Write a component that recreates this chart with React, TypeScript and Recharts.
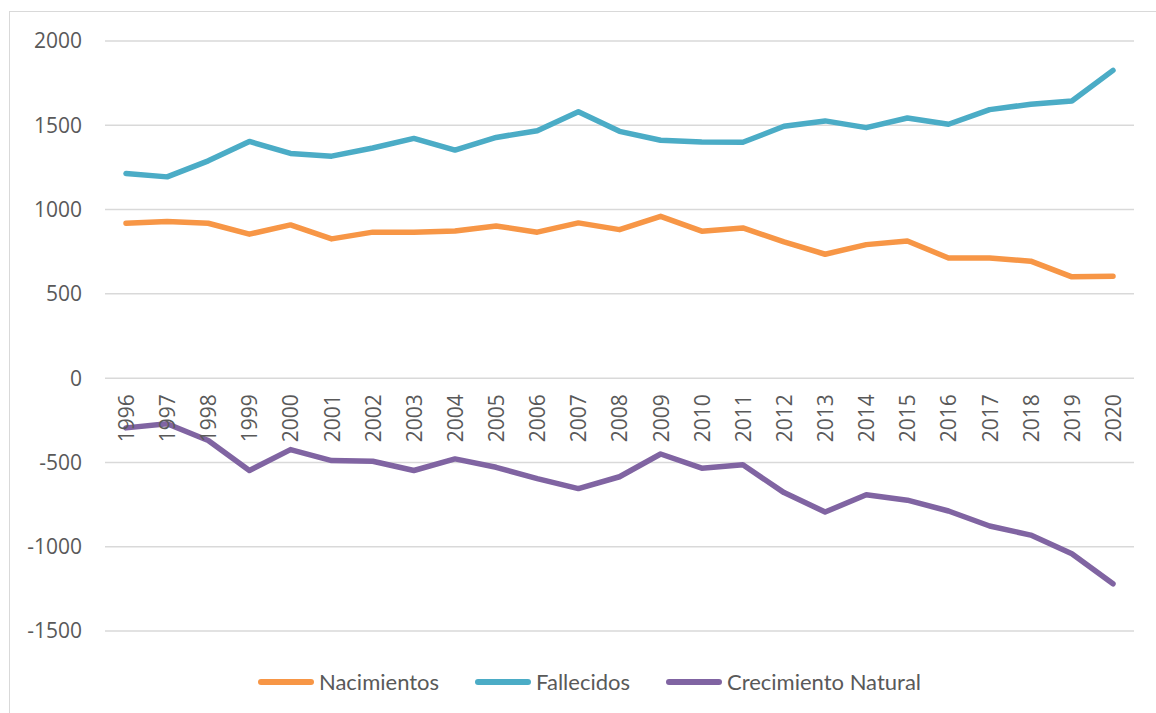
import React from 'react'
import { LineChart, Line, XAxis, YAxis, CartesianGrid, Legend, LabelList } from 'recharts'

// Años
const years = [
  '1996', '1997', '1998', '1999', '2000', '2001', '2002', '2003', '2004', '2005', '2006', '2007', '2008',
  '2009', '2010', '2011', '2012', '2013', '2014', '2015', '2016', '2017', '2018', '2019', '2020',
]

const nacimientos = [919, 929, 919, 854, 909, 826, 866, 866, 873, 903, 866, 921, 881, 960, 872, 891, 808, 735, 792, 814, 713, 713, 694, 601, 605]
const fallecidos = [1214, 1194, 1289, 1404, 1333, 1317, 1365, 1422, 1353, 1428, 1468, 1580, 1464, 1411, 1401, 1399, 1494, 1526, 1486, 1543, 1506, 1593, 1625, 1644, 1826]
const crecimiento = [-295, -271, -370, -548, -424, -489, -493, -548, -479, -529, -596, -655, -585, -450, -534, -514, -679, -794, -692, -724, -788, -877, -931, -1042, -1220]

const yTicks = [-1500, -1000, -500, 0, 500, 1000, 1500, 2000]

// the category labels sit on the zero line, like Excel does
const axisZero = 0

const series = [
  { key: 'Nacimientos', color: '#F79646' },
  { key: 'Fallecidos', color: '#4BACC6' },
  { key: 'Crecimiento Natural', color: '#8064A2' },
]

const data = years.map((year, i) => ({
  year,
  base: axisZero,
  Nacimientos: nacimientos[i],
  Fallecidos: fallecidos[i],
  'Crecimiento Natural': crecimiento[i],
}))

const textColor = '#595959'
const tickFont = '"Open Sans", "Liberation Sans", sans-serif'

const YearLabel = (props: any) => {
  const { x, y, value } = props
  const ty = y + 16
  return (
    <text
      x={x}
      y={ty}
      transform={`rotate(-90, ${x}, ${ty})`}
      textAnchor="end"
      dominantBaseline="central"
      fill={textColor}
      fontSize={21}
      fontFamily={tickFont}
    >
      {value}
    </text>
  )
}

const CustomLegend = () => (
  <div style={{ display: 'flex', justifyContent: 'center', alignItems: 'center', gap: 35 }}>
    {series.map((s) => (
      <div key={s.key} style={{ display: 'flex', alignItems: 'center' }}>
        <svg width={58} height={10} style={{ marginRight: 4 }}>
          <line x1={4} y1={5} x2={54} y2={5} stroke={s.color} strokeWidth={6} strokeLinecap="round" />
        </svg>
        <span style={{ fontFamily: 'Lato, sans-serif', fontSize: 22, color: textColor }}>{s.key}</span>
      </div>
    ))}
  </div>
)

export default function App() {
  return (
    <div style={{ position: 'absolute', left: 0, top: 0, width: 1156, height: 713, overflow: 'hidden', background: '#fff' }}>
      <div
        style={{
          position: 'absolute',
          left: 9,
          top: 11,
          width: 1170,
          height: 730,
          border: '1.5px solid #d9d9d9',
        }}
      />
      <div style={{ position: 'absolute', left: 0, top: 0 }}>
        <LineChart width={1156} height={713} data={data} margin={{ top: 41, right: 22, bottom: 55, left: 35 }}>
          <CartesianGrid vertical={false} stroke="#d9d9d9" strokeWidth={1.5} />
          <XAxis dataKey="year" hide padding={{ left: 21, right: 21 }} />
          <YAxis
            width={70}
            domain={[-1500, 2000]}
            ticks={yTicks}
            interval={0}
            axisLine={false}
            tickLine={false}
            tickMargin={17}
            tick={{ fill: textColor, fontSize: 21, fontFamily: tickFont }}
          />
          <Line
            dataKey="base"
            stroke="none"
            dot={false}
            activeDot={false}
            legendType="none"
            isAnimationActive={false}
          >
            <LabelList dataKey="year" content={<YearLabel />} />
          </Line>
          {series.map((s) => (
            <Line
              key={s.key}
              type="linear"
              dataKey={s.key}
              stroke={s.color}
              strokeWidth={5.5}
              strokeLinecap="round"
              strokeLinejoin="round"
              dot={false}
              activeDot={false}
              isAnimationActive={false}
            />
          ))}
          <Legend content={<CustomLegend />} wrapperStyle={{ left: 22, width: 1134, top: 668 }} />
        </LineChart>
      </div>
    </div>
  )
}
